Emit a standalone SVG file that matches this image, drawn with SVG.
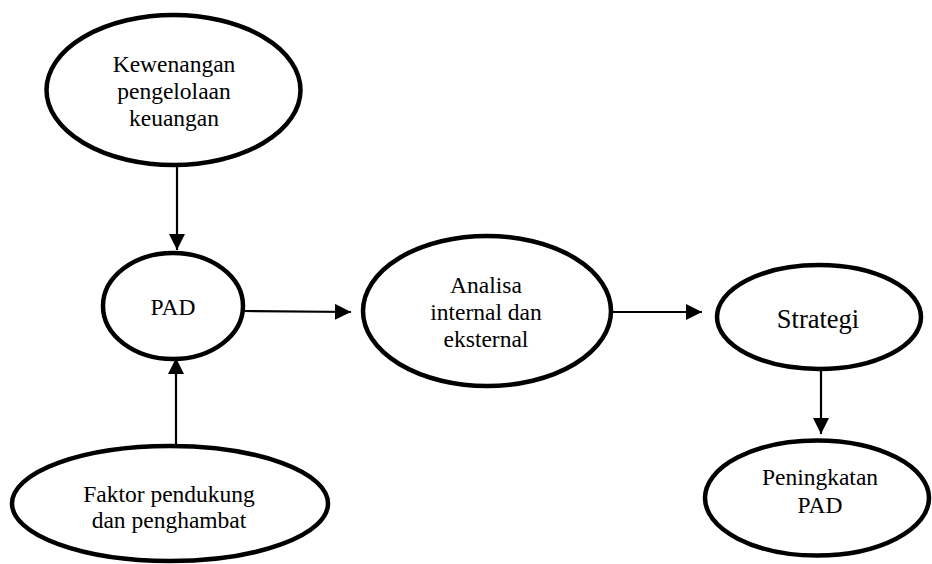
<svg xmlns="http://www.w3.org/2000/svg" width="932" height="564" viewBox="0 0 932 564">
<defs>
<style>
.node ellipse{fill:#fff;stroke:#000;stroke-width:4.5}
.node text{font-size:23.5px;fill:#000;text-anchor:middle}
.conn line{stroke:#000;stroke-width:2.2}
</style>
<marker id="ah" markerWidth="16" markerHeight="16" viewBox="0 0 16 16" refX="16" refY="8" orient="auto" markerUnits="userSpaceOnUse">
<path d="M0,0 L16,8 L0,16 Z" fill="#000"/>
</marker>
</defs>
<rect width="932" height="564" fill="#fff"/>
<g id="connectors" class="conn">
<line x1="177" y1="167" x2="177" y2="250" marker-end="url(#ah)"/>
<line x1="176" y1="445" x2="176" y2="358" marker-end="url(#ah)"/>
<line x1="243" y1="311" x2="351" y2="312" marker-end="url(#ah)"/>
<line x1="612" y1="312" x2="702" y2="312" marker-end="url(#ah)"/>
<line x1="821" y1="369" x2="821" y2="434" marker-end="url(#ah)"/>
</g>
<g font-family="Liberation Serif, Times New Roman, DejaVu Serif, serif">
<g id="kewenangan" class="node">
<ellipse cx="173.5" cy="90" rx="127" ry="75"/>
<text x="174" y="72">Kewenangan</text>
<text x="174" y="99">pengelolaan</text>
<text x="174" y="126">keuangan</text>
</g>
<g id="pad" class="node">
<ellipse cx="173" cy="306" rx="70" ry="53"/>
<text x="173" y="315">PAD</text>
</g>
<g id="faktor" class="node">
<ellipse cx="170" cy="503.5" rx="158" ry="57.5"/>
<text x="169" y="502">Faktor pendukung</text>
<text x="169" y="528">dan penghambat</text>
</g>
<g id="analisa" class="node">
<ellipse cx="487" cy="311" rx="124" ry="75"/>
<text x="486" y="293">Analisa</text>
<text x="486" y="320">internal dan</text>
<text x="486" y="347">eksternal</text>
</g>
<g id="strategi" class="node">
<ellipse cx="819" cy="317" rx="102" ry="52"/>
<text x="818" y="328" style="font-size:26.5px">Strategi</text>
</g>
<g id="peningkatan" class="node">
<ellipse cx="817" cy="498" rx="112" ry="57.5"/>
<text x="820" y="485">Peningkatan</text>
<text x="820" y="513">PAD</text>
</g>
</g>
</svg>
